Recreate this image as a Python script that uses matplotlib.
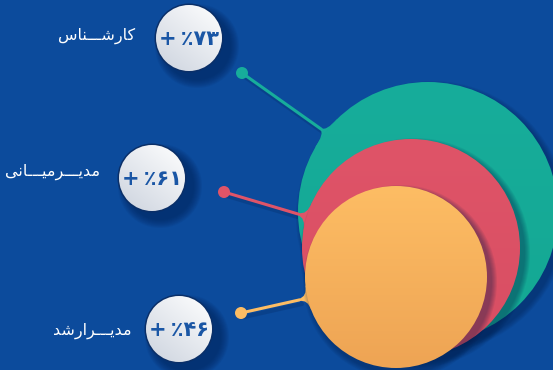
import numpy as np
import matplotlib
matplotlib.use("Agg")
import matplotlib.pyplot as plt
from matplotlib.patches import Circle, PathPatch
from matplotlib.path import Path
from matplotlib.colors import to_rgb

# data
values = [73, 61, 46]
# Persian labels, pre-shaped (presentation forms, visual order)
labels = [
    "\uFEB1\uFE8E\uFEE8\u0640\u0640\u0640\uFEB7\uFEAD\uFE8E\uFB90",                      # کارشـــناس
    "\uFBFD\uFEE7\uFE8E\u0640\u0640\u0640\uFBFF\uFEE3\uFEAE\u0640\u0640\u0640\uFBFE\uFEAA\uFEE3",  # مدیـــرمیـــانی
    "\uFEAA\uFEB7\uFEAD\uFE8D\uFEAE\u0640\u0640\u0640\uFBFE\uFEAA\uFEE3",               # مدیـــرارشد
]
fa_digits = "۰۱۲۳۴۵۶۷۸۹"
colors = ["#17ad9b", "#df5468", "#fdbd64"]
colors_bottom = ["#14a893", "#d84e63", "#eea454"]

# layout (pixels, y down)
W, H = 553, 370
bg = "#0c4b9c"
circle_centers = [(428, 212), (411, 248), (396, 277)]
radii = [130, 109, 91]
dots = [(242, 73), (224, 192), (241, 313)]
line_ends = [(321, 129), (298, 214), (299, 300)]
badges = [(189, 38), (152, 178), (179, 329)]
badge_r = 33
label_pos = [(135, 36), (100, 172), (132, 331)]


def to_fa(n):
    return "".join(fa_digits[int(c)] for c in str(n))


def gradient_disc(ax, cx, cy, r, top, bottom, z):
    t = np.linspace(0, 1, 200)[:, None, None]
    img = (1 - t) * np.array(to_rgb(top)) + t * np.array(to_rgb(bottom))
    img = np.repeat(img, 2, axis=1)
    im = ax.imshow(img, extent=(cx - r, cx + r, cy + r, cy - r), zorder=z,
                   interpolation="bilinear", aspect="auto")
    clip = Circle((cx, cy), r, transform=ax.transData)
    im.set_clip_path(clip)


def soft_shadow(ax, cx, cy, r, dx, dy, z, alpha=0.06, steps=6, color="#021a45"):
    for k in range(steps):
        ax.add_patch(Circle((cx + dx, cy + dy), r + steps - k, color=color,
                            alpha=alpha, lw=0, zorder=z))


def fillet(ax, center, r, end, color, z, w=1.2, spread=0.14):
    c = np.array(center, float)
    e = np.array(end, float)
    d = e - c
    ang = np.arctan2(d[1], d[0])
    j = c + r * np.array([np.cos(ang), np.sin(ang)])
    u = (e - j) / np.linalg.norm(e - j)
    n = np.array([-u[1], u[0]])
    p1 = c + r * np.array([np.cos(ang + spread), np.sin(ang + spread)])
    p2 = c + r * np.array([np.cos(ang - spread), np.sin(ang - spread)])
    if np.dot(p1 - j, n) < 0:
        p1, p2 = p2, p1
    inner = c + (r - 12) * np.array([np.cos(ang), np.sin(ang)])
    verts = [e + n * w, j + n * w, p1, inner, p2, j - n * w, e - n * w, e + n * w]
    codes = [Path.MOVETO, Path.CURVE3, Path.CURVE3, Path.LINETO, Path.LINETO,
             Path.CURVE3, Path.CURVE3, Path.CLOSEPOLY]
    ax.add_patch(PathPatch(Path(verts, codes), color=color, lw=0, zorder=z))


fig = plt.figure(figsize=(W / 100, H / 100), dpi=100)
fig.patch.set_facecolor(bg)
ax = fig.add_axes([0, 0, 1, 1])
ax.set_xlim(0, W)
ax.set_ylim(H, 0)
ax.set_facecolor(bg)
ax.axis("off")

# connectors
for i in range(3):
    z = 2 + i * 3
    (dx, dy), (ex, ey) = dots[i], line_ends[i]
    ax.plot([dx + 3, ex + 3], [dy + 4, ey + 4], color="#062f6e", lw=3, alpha=0.35,
            zorder=1, solid_capstyle="round")
    ax.plot([dx, ex], [dy, ey], color=colors[i], lw=2.2, zorder=z,
            solid_capstyle="round")
    ax.add_patch(Circle((dx, dy), 6, color=colors[i], lw=0, zorder=z))
    fillet(ax, circle_centers[i], radii[i], line_ends[i], colors[i], z)

# big circles with shadows
for i in range(3):
    cx, cy = circle_centers[i]
    z = 3 + i * 3
    soft_shadow(ax, cx, cy, radii[i], 4, 5, z - 0.5, alpha=0.07)
    gradient_disc(ax, cx, cy, radii[i], colors[i], colors_bottom[i], z)

# badges
for i in range(3):
    bx, by = badges[i]
    soft_shadow(ax, bx, by, badge_r, 8, 8, 20, alpha=0.09, steps=9, color="#03245a")
    ax.add_patch(Circle((bx, by), badge_r + 1.5, color="#0a2f68", lw=0, zorder=21))
    t = np.linspace(0, 1, 120)
    xx, yy = np.meshgrid(t, t)
    g = np.clip(0.55 * yy + 0.45 * (1 - xx), 0, 1)[..., None]
    img = (1 - g) * np.array(to_rgb("#ffffff")) + g * np.array(to_rgb("#ccd3de"))
    im = ax.imshow(img, extent=(bx - badge_r, bx + badge_r, by + badge_r, by - badge_r),
                   zorder=22, interpolation="bilinear", aspect="auto")
    im.set_clip_path(Circle((bx, by), badge_r, transform=ax.transData))
    ax.text(bx, by + 1, "+\u2009\u066A" + to_fa(values[i]), ha="center", va="center",
            fontsize=15, fontweight="bold", color="#1a56a5",
            family=["DejaVu Sans"], zorder=23)

# labels
for i in range(3):
    lx, ly = label_pos[i]
    ax.text(lx, ly, labels[i], ha="right", va="center", fontsize=11.5,
            color="white", family=["DejaVu Sans"], zorder=23)

fig.savefig("out.png", dpi=100, facecolor=bg)
